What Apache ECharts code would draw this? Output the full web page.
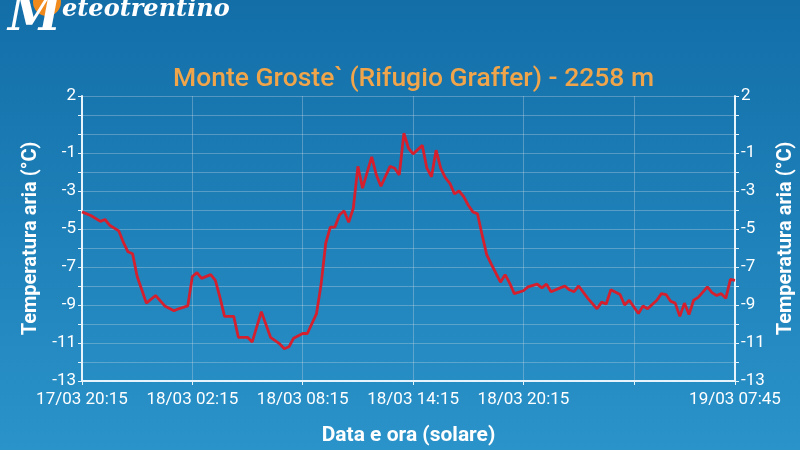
<!DOCTYPE html>
<html>
<head>
<meta charset="utf-8">
<script src="https://cdn.jsdelivr.net/npm/echarts@6/dist/echarts.min.js"></script>
<style>
html,body{margin:0;padding:0;}
#chart{width:800px;height:450px;}
</style>
</head>
<body>
<div id="chart"></div>
<script>
// ---- data ----
const chartTitle = "Monte Groste` (Rifugio Graffer) - 2258 m";
const yAxisName = "Temperatura aria (°C)";
const xAxisName = "Data e ora (solare)";
const startTime = "17/03 20:15";
const endTime = "19/03 07:45";
const times = [
  "17/03 20:15","17/03 20:45","17/03 21:15","17/03 21:30","17/03 21:45","17/03 22:15","17/03 22:30","17/03 22:45",
  "17/03 23:00","17/03 23:15","17/03 23:30","17/03 23:45","18/03 00:15","18/03 00:45","18/03 01:15","18/03 01:30",
  "18/03 02:00","18/03 02:15","18/03 02:30","18/03 02:45","18/03 03:15","18/03 03:30","18/03 03:45","18/03 04:00",
  "18/03 04:30","18/03 04:45","18/03 05:15","18/03 05:30","18/03 06:00","18/03 06:30","18/03 07:00","18/03 07:15",
  "18/03 07:30","18/03 07:45","18/03 08:15","18/03 08:30","18/03 09:00","18/03 09:15","18/03 09:30","18/03 09:45",
  "18/03 10:00","18/03 10:15","18/03 10:30","18/03 10:45","18/03 11:00","18/03 11:15","18/03 11:30","18/03 12:00",
  "18/03 12:15","18/03 12:30","18/03 13:00","18/03 13:15","18/03 13:30","18/03 13:45","18/03 14:00","18/03 14:15",
  "18/03 14:45","18/03 15:00","18/03 15:15","18/03 15:30","18/03 15:45","18/03 16:00","18/03 16:15","18/03 16:30",
  "18/03 16:45","18/03 17:00","18/03 17:15","18/03 17:30","18/03 17:45","18/03 18:00","18/03 18:15","18/03 18:30",
  "18/03 19:00","18/03 19:15","18/03 19:30","18/03 19:45","18/03 20:15","18/03 20:30","18/03 21:00","18/03 21:15",
  "18/03 21:30","18/03 21:45","18/03 22:15","18/03 22:30","18/03 22:45","18/03 23:00","18/03 23:15","18/03 23:45",
  "19/03 00:15","19/03 00:30","19/03 00:45","19/03 01:00","19/03 01:30","19/03 01:45","19/03 02:00","19/03 02:30",
  "19/03 02:45","19/03 03:00","19/03 03:30","19/03 03:45","19/03 04:00","19/03 04:15","19/03 04:30","19/03 04:45",
  "19/03 05:00","19/03 05:15","19/03 05:30","19/03 05:45","19/03 06:15","19/03 06:30","19/03 06:45","19/03 07:00",
  "19/03 07:15","19/03 07:30","19/03 07:45"
];
const temps = [
  -4.1,-4.3,-4.6,-4.5,-4.8,-5.1,-5.7,-6.2,
  -6.3,-7.5,-8.2,-8.9,-8.5,-9.05,-9.3,-9.2,
  -9.05,-7.5,-7.3,-7.6,-7.4,-7.7,-8.6,-9.6,
  -9.6,-10.7,-10.7,-10.95,-9.35,-10.7,-11.05,-11.3,
  -11.2,-10.75,-10.5,-10.5,-9.45,-7.9,-5.75,-4.9,
  -4.9,-4.25,-4.05,-4.65,-3.9,-1.7,-2.85,-1.2,
  -2.15,-2.75,-1.7,-1.8,-2.15,0.05,-0.75,-1.05,
  -0.6,-1.8,-2.25,-0.85,-1.8,-2.3,-2.6,-3.15,
  -3.0,-3.3,-3.75,-4.1,-4.2,-5.3,-6.35,-6.85,
  -7.8,-7.4,-7.85,-8.4,-8.25,-8.05,-7.9,-8.1,
  -7.9,-8.3,-8.1,-8.0,-8.2,-8.3,-8.0,-8.65,
  -9.2,-8.85,-8.95,-8.2,-8.45,-9.0,-8.75,-9.45,
  -9.05,-9.2,-8.75,-8.4,-8.45,-8.8,-8.9,-9.6,
  -8.9,-9.5,-8.75,-8.6,-8.05,-8.35,-8.5,-8.4,
  -8.65,-7.65,-7.7
];
const yMin = -13, yMax = 2;
const yLabelValues = [2,-1,-3,-5,-7,-9,-11,-13];
const xTickHours = 6;
const xHiddenLabelHours = [30];

// ---- helpers ----
function parseT(s){
  const [d, t] = s.split(' ');
  const [dd, mm] = d.split('/').map(Number);
  const [hh, mi] = t.split(':').map(Number);
  return Date.UTC(2024, mm-1, dd, hh, mi);
}
const t0 = parseT(startTime);
const toH = s => (parseT(s) - t0) / 3600000;
const hEnd = toH(endTime);
function fmtH(h){
  const d = new Date(t0 + h*3600000);
  const p = n => String(n).padStart(2,'0');
  return p(d.getUTCDate()) + '/' + p(d.getUTCMonth()+1) + ' ' + p(d.getUTCHours()) + ':' + p(d.getUTCMinutes());
}
const seriesData = times.map((s,i) => [toH(s), temps[i]]);

const F = 'Roboto, "Noto Sans", sans-serif';
const axisColor = '#e8f4fb';
const gridColor = 'rgba(200,215,225,0.35)';
const yAxisCommon = {
  type: 'value', min: yMin, max: yMax, interval: 1,
  name: yAxisName, nameLocation: 'middle',
  nameTextStyle: {color:'#fff', fontSize:20, fontWeight:'bold', fontFamily:F},
  axisLine: {show:true, onZero:false, lineStyle:{color:axisColor, width:2}},
  axisTick: {show:true, length:4, lineStyle:{color:axisColor}},
  axisLabel: {color:'#fff', fontSize:17, fontFamily:F, margin:6,
    formatter: v => yLabelValues.includes(v) ? String(v) : ''},
  splitLine: {show:true, lineStyle:{color:gridColor, width:1}}
};

const chart = echarts.init(document.getElementById('chart'), null, {renderer:'canvas'});
chart.setOption({
  animation: false,
  backgroundColor: {type:'linear', x:0, y:0, x2:0, y2:1, colorStops:[
    {offset:0, color:'#136ea8'}, {offset:1, color:'#2a93c9'}]},
  title: {text: chartTitle, left: 168, top: 61,
    textStyle:{color:'#f0a54a', fontSize:26.5, fontWeight:500, fontFamily:F}},
  grid: {left:82, right:65, top:96, bottom:69, containLabel:false, outerBoundsMode:'none'},
  graphic: [
    {type:'circle', shape:{cx:47, cy:2, r:14}, style:{fill:'#f08a1c'}},
    {type:'text', left:8, top:-6, style:{text:'M', fill:'#fff', font:'italic bold 48px "DejaVu Serif", serif'}},
    {type:'text', left:62, top:-2, style:{text:'eteotrentino', fill:'#fff', font:'italic bold 24px "DejaVu Serif", serif'}}
  ],
  xAxis: {
    type:'value', min:0, max:hEnd, interval:xTickHours,
    name: xAxisName, nameLocation:'middle', nameGap:44,
    nameTextStyle:{color:'#fff', fontSize:21, fontWeight:'bold', fontFamily:F},
    axisLine:{show:true, onZero:false, lineStyle:{color:axisColor, width:2}},
    axisTick:{show:true, length:4, lineStyle:{color:axisColor}},
    axisLabel:{color:'#fff', fontSize:17, fontFamily:F, margin:10, showMaxLabel:true, showMinLabel:true,
      formatter: v => xHiddenLabelHours.includes(v) ? '' : fmtH(v)},
    splitLine:{show:true, lineStyle:{color:gridColor, width:1}}
  },
  yAxis: [
    Object.assign({}, yAxisCommon, {position:'left', nameGap:39}),
    Object.assign({}, yAxisCommon, {position:'right', nameGap:40, splitLine:{show:false}})
  ],
  series: [{
    type:'line', data: seriesData, yAxisIndex:0, showSymbol:false, symbol:'none',
    lineStyle:{color:'#d4202e', width:2.8}
  }]
});
</script>
</body>
</html>
